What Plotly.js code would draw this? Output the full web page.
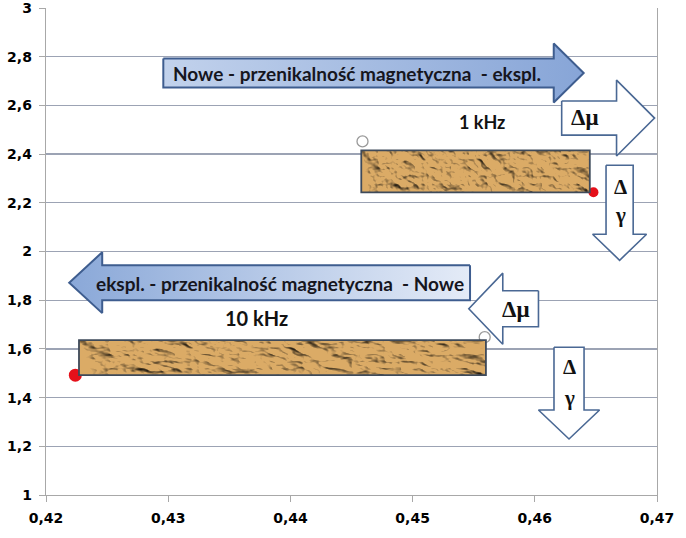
<!DOCTYPE html>
<html><head><meta charset="utf-8">
<script src="https://cdn.plot.ly/plotly-3.0.1.min.js"></script>
<style>html,body{margin:0;padding:0;background:#fff}#chart{width:686px;height:538px}</style>
</head><body><div id="chart"></div>
<script>
// ---- data ----
const seriesNames = ["1 kHz", "10 kHz"];
const openX = [0.4459, 0.4559];   // open circles (start)
const openY = [2.452, 1.648];
const redX  = [0.4648, 0.4224];   // red dots (end)
const redY  = [2.243, 1.492];
const redSize = [10, 13];
const rectX0 = [0.4458, 0.4227];
const rectX1 = [0.4645, 0.4560];
const rectY0 = [2.243, 1.492];
const rectY1 = [2.415, 1.636];
const xTicks = [0.42, 0.43, 0.44, 0.45, 0.46, 0.47];
const xTickText = ["0,42", "0,43", "0,44", "0,45", "0,46", "0,47"];
const yTicks = [1, 1.2, 1.4, 1.6, 1.8, 2, 2.2, 2.4, 2.6, 2.8, 3];
const yTickText = ["1", "1,2", "1,4", "1,6", "1,8", "2", "2,2", "2,4", "2,6", "2,8", "3"];

// ---- decorations (block arrows), geometry in data units ----
const hArrows = [ // x0 tail, x1 tip, yc, body half-height, head half-height, head length, style
  {x0:0.4296, x1:0.4640, yc:2.733, bh:0.060, hh:0.121, hl:0.00245, blue:true, grad:[[0,'#c2d2ec'],[1,'#87a5d7']]},
  {x0:0.4547, x1:0.4219, yc:1.872, bh:0.072, hh:0.125, hl:0.00270, blue:true, grad:[[0,'#8aa8d8'],[1,'#e4ebf7']]},
  {x0:0.4622, x1:0.4698, yc:2.548, bh:0.070, hh:0.156, hl:0.00311, blue:false},
  {x0:0.4603, x1:0.4546, yc:1.765, bh:0.074, hh:0.146, hl:0.00278, blue:false}
];
const vArrows = [ // xc, y0 tail, y1 tip, body half-width, head half-width, head length
  {xc:0.46694, y0:2.354, y1:1.964, bw:0.00111, hw:0.00221, hl:0.107},
  {xc:0.46280, y0:1.607, y1:1.230, bw:0.00123, hw:0.00250, hl:0.119}
];

const traces = [];
hArrows.forEach(a => {
  const d = Math.sign(a.x1 - a.x0);
  const xb = a.x1 - d * a.hl;
  const xs = [a.x0, xb, xb, a.x1, xb, xb, a.x0, a.x0];
  const ys = [a.yc + a.bh, a.yc + a.bh, a.yc + a.hh, a.yc, a.yc - a.hh, a.yc - a.bh, a.yc - a.bh, a.yc + a.bh];
  const t = {x: xs, y: ys, mode: 'lines', fill: 'toself', hoverinfo: 'skip', showlegend: false,
    line: {color: a.blue ? '#3e5d8f' : '#4a6894', width: a.blue ? 2 : 1.6}};
  if (a.blue) t.fillgradient = {type: 'horizontal', colorscale: a.grad};
  else t.fillcolor = '#ffffff';
  traces.push(t);
});
vArrows.forEach(a => {
  const yb = a.y1 + a.hl;
  traces.push({
    x: [a.xc - a.bw, a.xc + a.bw, a.xc + a.bw, a.xc + a.hw, a.xc, a.xc - a.hw, a.xc - a.bw, a.xc - a.bw],
    y: [a.y0, a.y0, yb, yb, a.y1, yb, yb, a.y0],
    mode: 'lines', fill: 'toself', fillcolor: '#ffffff', hoverinfo: 'skip', showlegend: false,
    line: {color: '#4a6894', width: 1.6}
  });
});

// markers
traces.push({x: openX, y: openY, mode: 'markers', name: 'start', showlegend: false,
  marker: {size: 11, color: 'rgba(255,255,255,0)', line: {color: '#9a9a9a', width: 1.3}}});
traces.push({x: redX, y: redY, mode: 'markers', name: 'end', showlegend: false,
  marker: {size: redSize, color: '#e5101a', opacity: 1, line: {width: 0}}});

// crumpled-paper texture for the bars
const tex = "data:image/svg+xml;charset=utf-8," + encodeURIComponent(
  "<svg xmlns='http://www.w3.org/2000/svg' width='420' height='50' preserveAspectRatio='none'>" +
  "<filter id='f' x='0' y='0' width='100%' height='100%' color-interpolation-filters='sRGB'>" +
  "<feTurbulence type='turbulence' baseFrequency='0.03 0.05' numOctaves='3' seed='11' result='n'/>" +
  "<feDiffuseLighting in='n' lighting-color='#ffffff' surfaceScale='3.8' diffuseConstant='1.45' result='l'>" +
  "<feDistantLight azimuth='135' elevation='48'/></feDiffuseLighting>" +
  "<feFlood flood-color='#dbab66' result='c'/>" +
  "<feBlend in='l' in2='c' mode='multiply'/></filter>" +
  "<rect width='100%' height='100%' filter='url(#f)'/></svg>");

const images = [], shapes = [];
for (let i = 0; i < rectX0.length; i++) {
  images.push({source: tex, xref: 'x', yref: 'y', x: rectX0[i], y: rectY1[i],
    sizex: rectX1[i] - rectX0[i], sizey: rectY1[i] - rectY0[i],
    xanchor: 'left', yanchor: 'top', sizing: 'stretch', layer: 'above'});
  shapes.push({type: 'rect', xref: 'x', yref: 'y', x0: rectX0[i], x1: rectX1[i], y0: rectY0[i], y1: rectY1[i],
    line: {color: '#3e4a5a', width: 1.8}, fillcolor: 'rgba(0,0,0,0)', layer: 'above'});
}

const fCal = 'Lato, "Open Sans", sans-serif';
const fTick = '"DejaVu Sans", sans-serif';
const fSer = '"Liberation Serif", "DejaVu Serif", serif';
const annotations = [
  {x: 0.44545, y: 2.731, text: 'Nowe - przenikalność magnetyczna  - ekspl.', font: {family: fCal, size: 19, color: '#16161e', weight: 700}},
  {x: 0.43915, y: 1.870, text: 'ekspl. - przenikalność magnetyczna  - Nowe', font: {family: fCal, size: 19, color: '#16161e', weight: 700}},
  {x: 0.45570, y: 2.530, text: '1 kHz', font: {family: fCal, size: 18, color: '#111', weight: 700}},
  {x: 0.43720, y: 1.726, text: '10 kHz', font: {family: fCal, size: 20, color: '#111', weight: 700}},
  {x: 0.46405, y: 2.552, text: 'Δμ', font: {family: fSer, size: 23, color: '#111', weight: 700}},
  {x: 0.45840, y: 1.760, text: 'Δμ', font: {family: fSer, size: 23, color: '#111', weight: 700}},
  {x: 0.46705, y: 2.264, text: 'Δ', font: {family: fSer, size: 21, color: '#111', weight: 700}},
  {x: 0.46705, y: 2.150, text: 'γ', font: {family: fSer, size: 21, color: '#111', weight: 700}},
  {x: 0.46280, y: 1.525, text: 'Δ', font: {family: fSer, size: 21, color: '#111', weight: 700}},
  {x: 0.46280, y: 1.399, text: 'γ', font: {family: fSer, size: 21, color: '#111', weight: 700}}
].map(a => Object.assign({xref: 'x', yref: 'y', showarrow: false}, a));

const bold = arr => arr.map(s => '<b>' + s + '</b>');
const layout = {
  width: 686, height: 538,
  margin: {l: 46, r: 29, t: 8, b: 43},
  paper_bgcolor: '#ffffff', plot_bgcolor: '#ffffff',
  showlegend: false,
  xaxis: {range: [0.42, 0.47], tickvals: xTicks, ticktext: bold(xTickText), showgrid: false, zeroline: false,
    showline: true, linecolor: '#a8a8a8', linewidth: 1.3, ticks: 'outside', ticklen: 6, tickcolor: '#a8a8a8',
    ticklabeloverflow: 'allow', ticklabelstandoff: 4,
    tickfont: {family: fTick, size: 14, color: '#000', weight: 'bold'}, fixedrange: true},
  yaxis: {range: [1, 3], tickvals: yTicks, ticktext: bold(yTickText), showgrid: true, gridcolor: '#9ca3b4', gridwidth: 1.3,
    zeroline: false, showline: true, linecolor: '#a8a8a8', linewidth: 1.3, mirror: true,
    ticks: 'outside', ticklen: 6, tickcolor: '#a8a8a8', ticklabelstandoff: 4, ticklabeloverflow: 'allow',
    tickfont: {family: fTick, size: 14, color: '#000', weight: 'bold'}, fixedrange: true},
  shapes: shapes, images: images, annotations: annotations
};
Plotly.newPlot('chart', traces, layout, {displayModeBar: false, staticPlot: true});
</script></body></html>
